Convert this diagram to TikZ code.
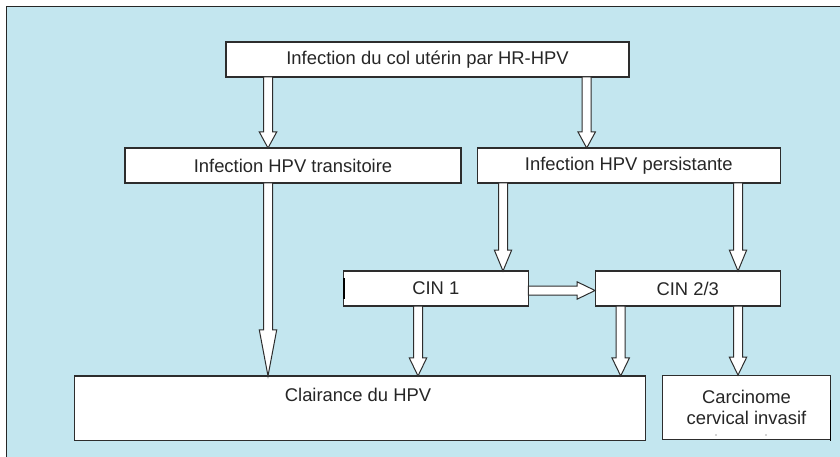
\documentclass[tikz,border=0pt]{standalone}
\usepackage{fontspec}
\setmainfont{Liberation Sans}
\usetikzlibrary{calc}
\definecolor{bgblue}{RGB}{195,230,239}
\definecolor{edge}{RGB}{45,45,45}
\newcommand\blockarr[3]{%
  \filldraw[arrsty]
    ($#1!4.5pt!90:#2$) -- ($($#2!#3!#1$)!4.5pt!90:#2$) --
    ($($#2!#3!#1$)!8.7pt!90:#2$) -- #2 --
    ($($#2!#3!#1$)!8.7pt!-90:#2$) -- ($($#2!#3!#1$)!4.5pt!-90:#2$) --
    ($#1!4.5pt!-90:#2$) -- cycle;}
\begin{document}
\begin{tikzpicture}[x=1pt,y=-1pt,
  box/.style={draw=edge,fill=white,line width=1.1pt,inner sep=0pt,outer sep=0pt,
    font=\fontsize{18.4}{21}\selectfont,text=black!85},
  txt/.style={inner sep=0pt,font=\fontsize{18.4}{21}\selectfont,text=black!85},
  arrsty/.style={draw=edge,fill=white,line width=1pt,line join=miter}]
\useasboundingbox (0,0) rectangle (840,457);
\fill[bgblue] (7,7) rectangle (840,457);
\draw[black!85,line width=1.3pt] (6.5,457) -- (6.5,6.5) -- (840,6.5);

\node[box,minimum width=403pt,minimum height=35pt] (top) at (427.5,59.5) {Infection du col utérin par HR-HPV};
\node[box,minimum width=336pt,minimum height=35pt] (trans) at (293,165.5) {Infection HPV transitoire};
\node[box,minimum width=303pt,minimum height=35pt] (pers) at (628.8,165.5) {Infection HPV persistante};
\node[box,minimum width=185pt,minimum height=35pt] (cin1) at (435.8,288.5) {CIN 1};
\node[box,minimum width=185.3pt,minimum height=35pt] (cin23) at (687.7,288.5) {CIN 2/3};
\node[box,minimum width=571.4pt,minimum height=64.7pt] (clair) at (360,408.3) {};
\node[txt] (clairtxt) at (358,395) {Clairance du HPV};
\node[box,minimum width=168.4pt,minimum height=64.7pt,align=center] (carc) at (746.5,407.5) {Carcinome\\cervical invasif};
\draw[black,line width=1.8pt] (344.2,278) -- (344.2,298.5);
\draw[black,line width=1.4pt] (830.5,400) -- (830.5,440.5);
\fill[black!70] (716,435) circle (0.7pt) (766,435) circle (0.7pt);

\coordinate (a1s) at (268,0 |- top.south);   \coordinate (a1e) at (268,0 |- trans.north);
\coordinate (a2s) at (586.7,0 |- top.south); \coordinate (a2e) at (586.7,0 |- pers.north);
\coordinate (a3s) at (268,0 |- trans.south); \coordinate (a3e) at (268,0 |- clair.north);
\coordinate (a4s) at (503,0 |- pers.south);  \coordinate (a4e) at (503,0 |- cin1.north);
\coordinate (a5s) at (738,0 |- pers.south);  \coordinate (a5e) at (738,0 |- cin23.north);
\coordinate (a6s) at (418,0 |- cin1.south);  \coordinate (a6e) at (418,0 |- clair.north);
\coordinate (a7s) at (620.7,0 |- cin23.south); \coordinate (a7e) at (620.7,0 |- clair.north);
\coordinate (a8s) at (738,0 |- cin23.south); \coordinate (a8e) at (738,0 |- carc.north);
\coordinate (a9s) at (cin1.east |- 0,290.5); \coordinate (a9e) at (cin23.west |- 0,290.5);

\blockarr{(a1s)}{(a1e)}{16pt}
\blockarr{(a2s)}{(a2e)}{16pt}
\blockarr{(a3s)}{(a3e)}{46pt}
\blockarr{(a4s)}{(a4e)}{21pt}
\blockarr{(a5s)}{(a5e)}{21pt}
\blockarr{(a6s)}{(a6e)}{18pt}
\blockarr{(a7s)}{(a7e)}{18pt}
\blockarr{(a8s)}{(a8e)}{18pt}
\blockarr{(a9s)}{(a9e)}{18pt}
\end{tikzpicture}
\end{document}
